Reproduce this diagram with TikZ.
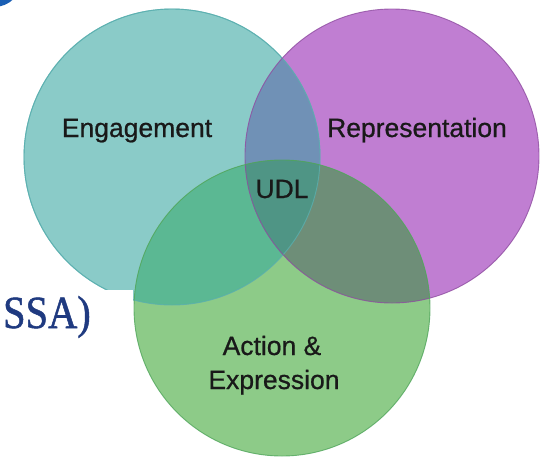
\documentclass[tikz,border=0pt]{standalone}
\usepackage{fontspec}
\setmainfont[FakeBold=0.6]{Liberation Sans}
\newfontfamily\labelfont[FakeBold=0.7]{Liberation Sans}
\newfontfamily\titleserif[FakeBold=1.2]{Liberation Serif}
\definecolor{tealc}{HTML}{8ACBC8}
\definecolor{purc}{HTML}{C07ED2}
\definecolor{grnc}{HTML}{8DCB88}
\definecolor{tpc}{HTML}{7091B6}
\definecolor{tgc}{HTML}{5BB893}
\definecolor{pgc}{HTML}{6E8E78}
\definecolor{allc}{HTML}{4F9585}
\definecolor{tealline}{HTML}{5AAFAF}
\definecolor{purline}{HTML}{8E4CA0}
\definecolor{grnline}{HTML}{4FA55A}
\definecolor{navy}{HTML}{1F3A80}
\definecolor{logoblue}{HTML}{1A5FB4}
\tikzset{
  lbl/.style={font=\labelfont\fontsize{26.5}{34}\selectfont, text=black!90, inner sep=0pt, anchor=base},
  rim/.style={line width=0.9pt, draw opacity=0.8}
}
\begin{document}
\begin{tikzpicture}[x=1pt,y=-1pt]
\useasboundingbox (0,0) rectangle (542,459);
\fill[white] (0,0) rectangle (542,459);
\coordinate (T) at (172,157);
\coordinate (P) at (392,156);
\coordinate (G) at (282,308);
\def\rT{148pt}\def\rP{147pt}\def\rG{148pt}
% logo fragment
\fill[logoblue] (-6,-21) circle[radius=28pt];
% base fills
\fill[tealc] (T) circle[radius=\rT];
\fill[purc] (P) circle[radius=\rP];
\draw[tealline,rim] (T) circle[radius=\rT];
% white patch behind title
\fill[white] (0,290) rectangle (132.5,459);
\fill[grnc] (G) circle[radius=\rG];
% overlaps
\begin{scope}\clip (T) circle[radius=\rT]; \fill[tpc] (P) circle[radius=\rP];\end{scope}
\begin{scope}\clip (T) circle[radius=\rT]; \fill[tgc] (G) circle[radius=\rG];\end{scope}
\begin{scope}\clip (P) circle[radius=\rP]; \fill[pgc] (G) circle[radius=\rG];\end{scope}
\begin{scope}\clip (T) circle[radius=\rT]; \clip (P) circle[radius=\rP]; \fill[allc] (G) circle[radius=\rG];\end{scope}
% rims
\begin{scope}\clip (0,0) rectangle (542,289.5) (133,289.5) rectangle (542,459);
\draw[tealline,rim] (T) circle[radius=\rT];
\end{scope}
\draw[purline,rim] (P) circle[radius=\rP];
\draw[grnline,rim] (G) circle[radius=\rG];
% labels
\node[lbl] (eng) at (137,137) {Engagement};
\node[lbl] (rep) at (417,137) {Representation};
\node[lbl] (udl) at (282,198) {UDL};
\node[lbl] (act) at (272,355) {Action \&};
\node[lbl] (exp) at (274,389) {Expression};
\node[font=\titleserif\fontsize{46}{50}\selectfont, text=navy, inner sep=0pt, anchor=base east, xscale=0.88] (ssa) at (91,328) {SSA)};
\end{tikzpicture}
\end{document}
